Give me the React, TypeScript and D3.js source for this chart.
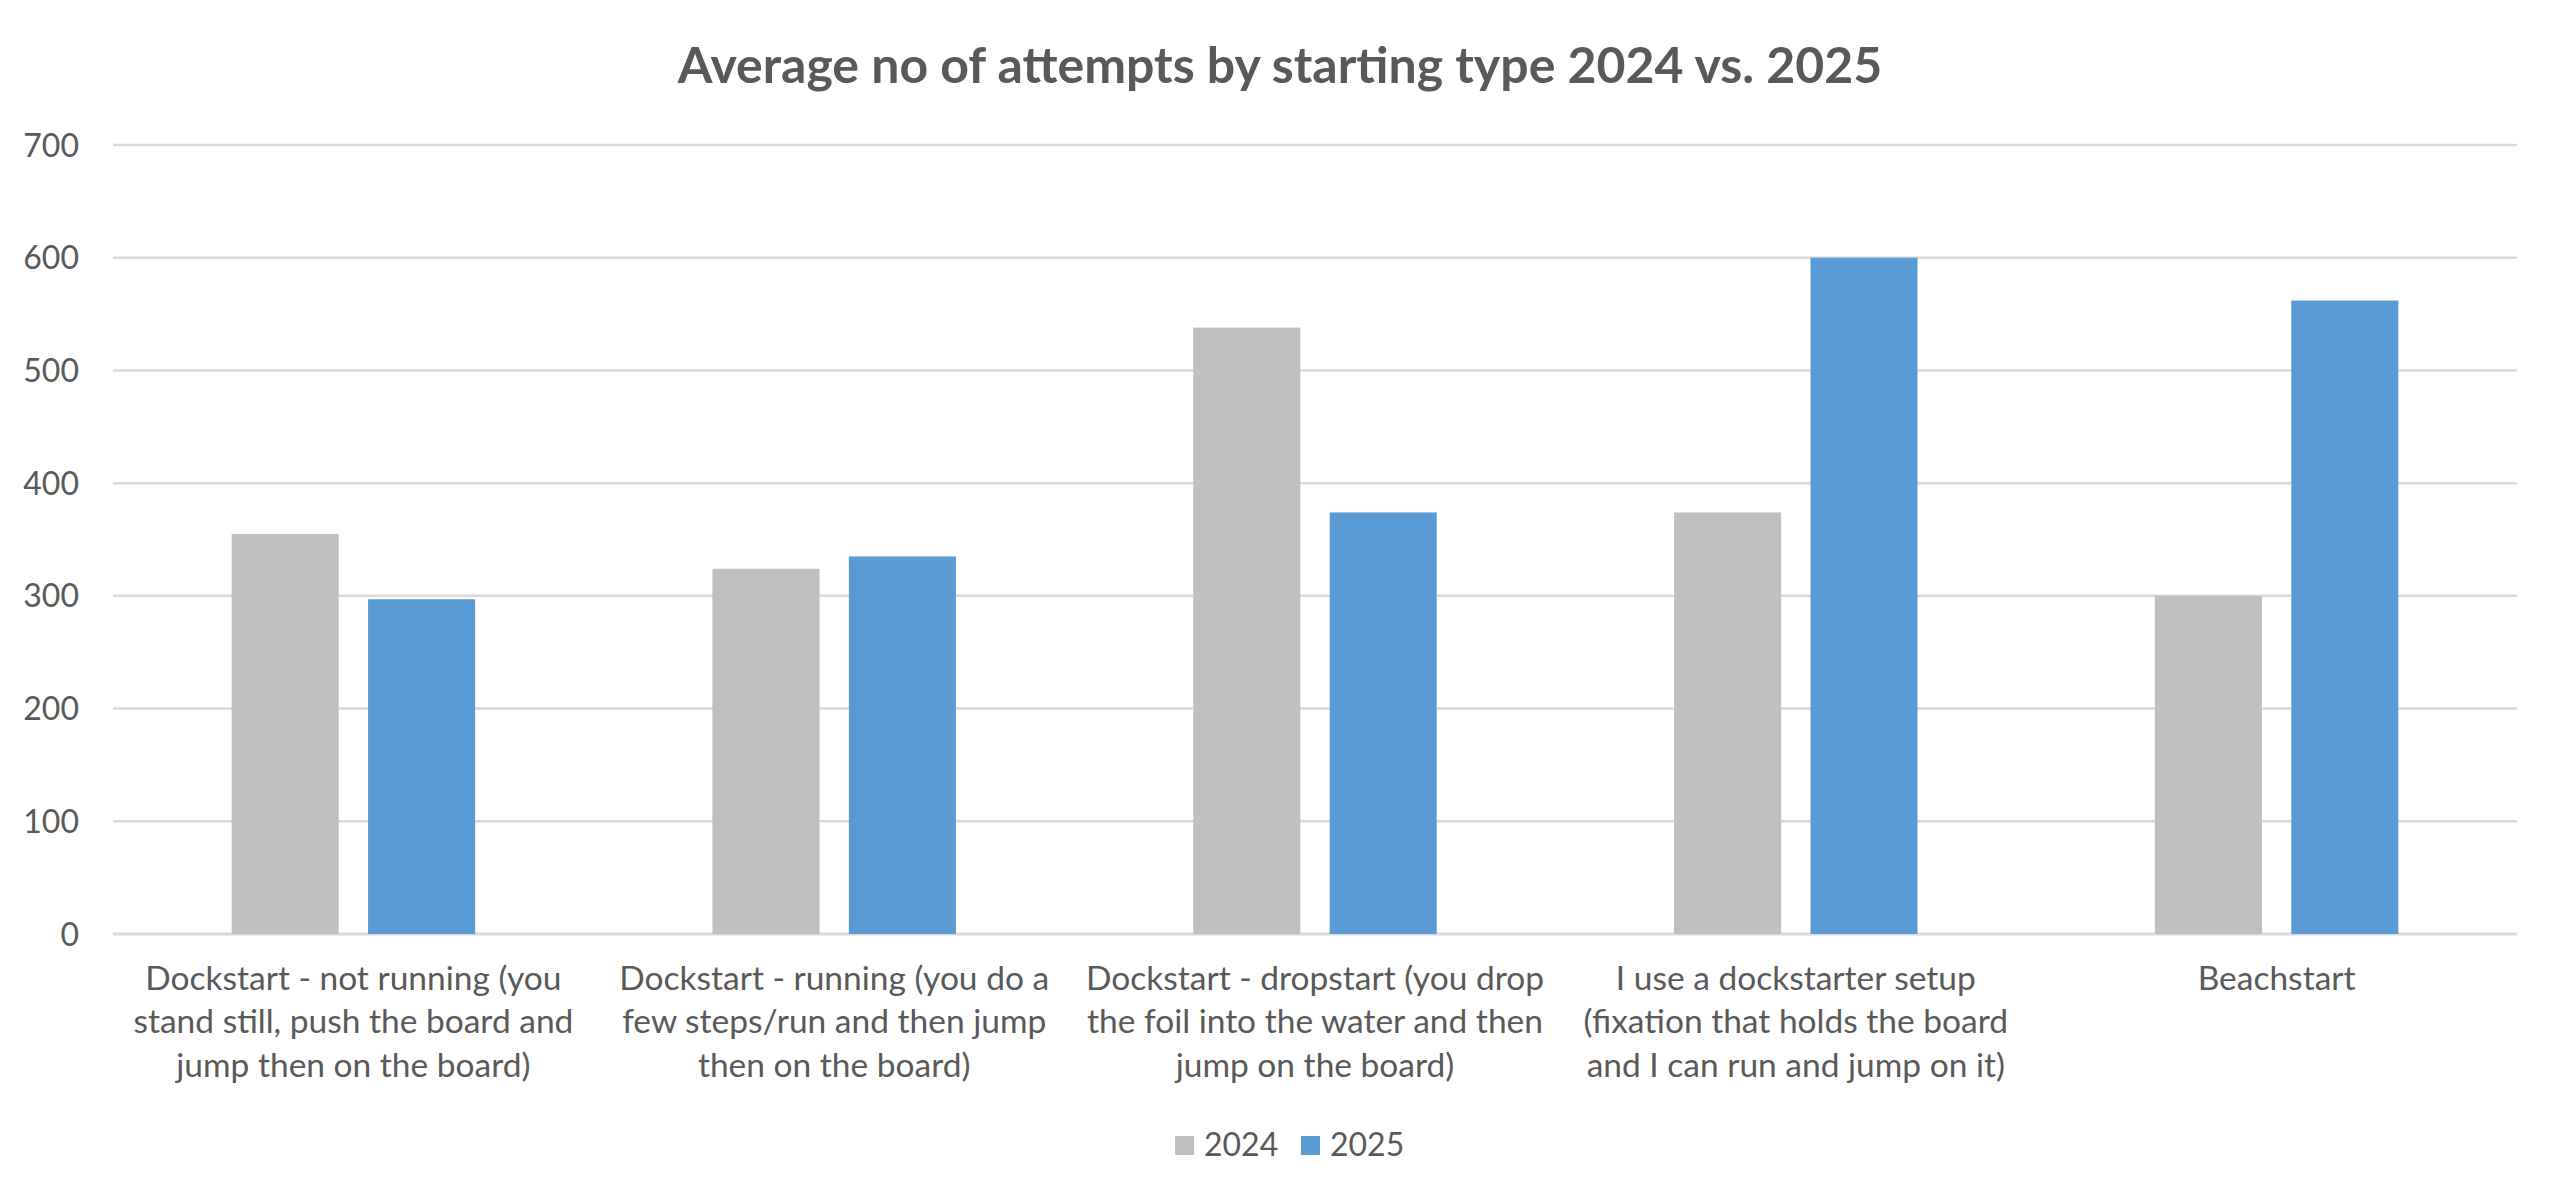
import { useEffect, useRef } from "react";
import * as d3 from "d3";

// chart data
const categories = ["notRunning", "running", "dropstart", "dockstarter", "beach"];
const categoryLabels = [
  ["Dockstart - not running (you", "stand still, push the board and", "jump then on the board)"],
  ["Dockstart - running (you do a", "few steps/run and then jump", "then on the board)"],
  ["Dockstart - dropstart (you drop", "the foil into the water and then", "jump on the board)"],
  ["I use a dockstarter setup", "(fixation that holds the board", "and I can run and jump on it)"],
  ["Beachstart"],
];
const series = ["2024", "2025"];
const values2024 = [355, 324, 538, 374, 300];
const values2025 = [297, 335, 374, 600, 562];
const yTicks = [0, 100, 200, 300, 400, 500, 600, 700];
const title = "Average no of attempts by starting type 2024 vs. 2025";

const colors: Record<string, string> = { "2024": "#BFBFBF", "2025": "#5B9BD5" };
const textColor = "#595959";
const gridColor = "#D9D9D9";
const font = "Lato, 'Open Sans', sans-serif";

export default function App() {
  const ref = useRef<SVGSVGElement>(null);

  useEffect(() => {
    document.body.style.margin = "0";
    if (!ref.current) return;
    const svg = d3.select(ref.current);
    svg.selectAll("*").remove();
    const W = 2560;
    const H = 1202;
    const m = { t: 145, r: 43, b: 268, l: 113 };

    svg.append("rect").attr("width", W).attr("height", H).attr("fill", "#fff");

    const x0 = d3.scaleBand<string>().domain(categories).range([m.l, W - m.r]).padding(0);
    const x1 = d3.scaleBand<string>()
      .domain(series)
      .range([0, x0.bandwidth()])
      .paddingInner(0.215)
      .paddingOuter(0.87);
    const y = d3.scaleLinear().domain([0, 700]).range([H - m.b, m.t]);

    // title
    svg.append("text")
      .attr("x", W / 2).attr("y", 83)
      .attr("text-anchor", "middle")
      .attr("font-family", font).attr("font-weight", 700).attr("font-size", 50)
      .attr("fill", textColor)
      .text(title);

    // gridlines
    svg.append("g")
      .selectAll("line")
      .data(yTicks)
      .join("line")
      .attr("x1", m.l).attr("x2", W - m.r)
      .attr("y1", (d) => y(d)).attr("y2", (d) => y(d))
      .attr("stroke", gridColor)
      .attr("stroke-width", (d) => (d === 0 ? 3 : 2.5));

    // y labels
    svg.append("g")
      .selectAll("text")
      .data(yTicks)
      .join("text")
      .attr("x", 79).attr("y", (d) => y(d))
      .attr("dy", "0.36em")
      .attr("text-anchor", "end")
      .attr("font-family", font).attr("font-size", 32)
      .attr("fill", textColor)
      .text((d) => d);

    // bars
    const rows = categories.map((c, i) => ({ c, v: [values2024[i], values2025[i]] }));
    const groups = svg.append("g")
      .selectAll("g")
      .data(rows)
      .join("g")
      .attr("transform", (d) => `translate(${x0(d.c)},0)`);
    groups.selectAll("rect")
      .data((d) => series.map((s, j) => ({ s, v: d.v[j] })))
      .join("rect")
      .attr("x", (d) => x1(d.s)!)
      .attr("width", x1.bandwidth())
      .attr("y", (d) => y(d.v))
      .attr("height", (d) => y(0) - y(d.v))
      .attr("fill", (d) => colors[d.s]);

    // category labels
    const lineH = 43.3;
    svg.append("g")
      .selectAll("text")
      .data(categories)
      .join("text")
      .attr("x", (d) => x0(d)! + x0.bandwidth() / 2)
      .attr("y", 990)
      .attr("text-anchor", "middle")
      .attr("font-family", font).attr("font-size", 33.5)
      .attr("fill", textColor)
      .each(function (_, i) {
        const t = d3.select(this);
        const cx = t.attr("x");
        categoryLabels[i].forEach((line, k) => {
          t.append("tspan").attr("x", cx).attr("y", 990 + k * lineH).text(line);
        });
      });

    // legend
    const legend = svg.append("g").attr("transform", "translate(1175,1136)");
    series.forEach((s, i) => {
      const g = legend.append("g").attr("transform", `translate(${i * 126},0)`);
      g.append("rect").attr("width", 19).attr("height", 19).attr("fill", colors[s]);
      g.append("text")
        .attr("x", 29).attr("y", 20)
        .attr("font-family", font).attr("font-size", 32)
        .attr("fill", textColor)
        .text(s);
    });
  }, []);

  return <svg ref={ref} width={2560} height={1202} style={{ display: "block" }} />;
}
